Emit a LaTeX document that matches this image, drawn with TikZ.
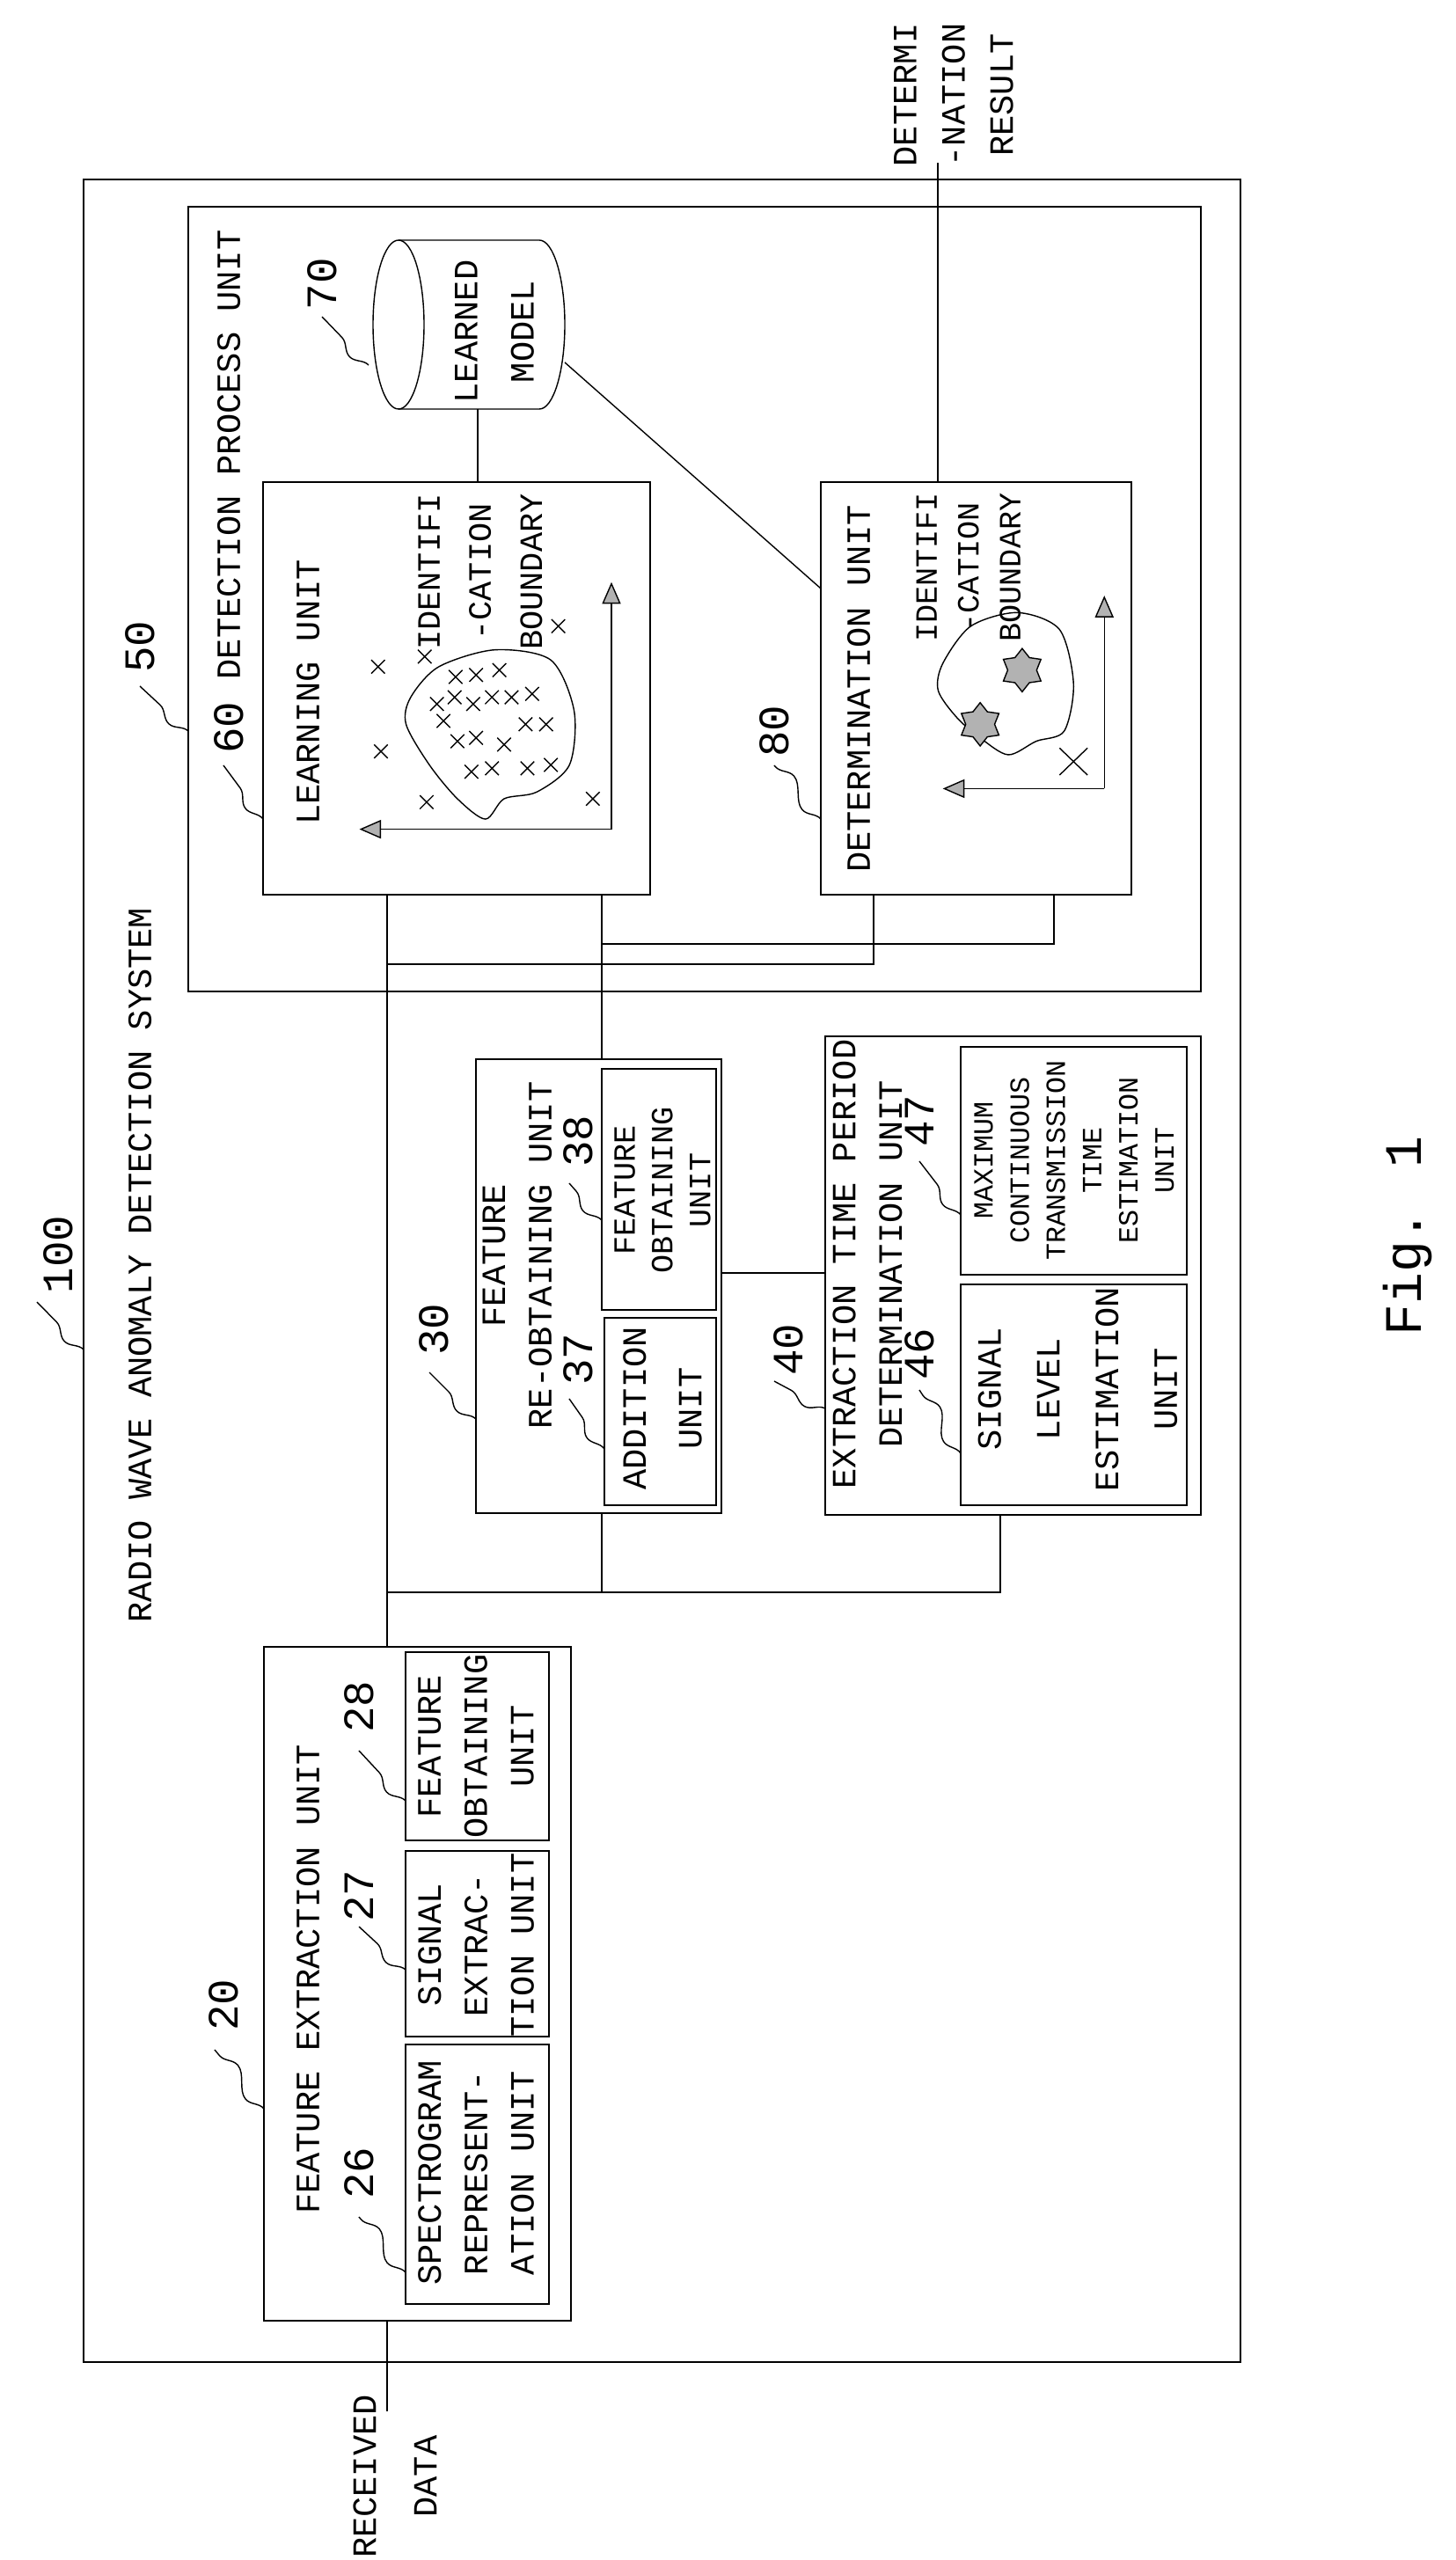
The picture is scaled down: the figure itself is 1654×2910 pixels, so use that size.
\documentclass[tikz,border=0pt]{standalone}
\usepackage{fontspec}
\usetikzlibrary{arrows.meta, fit, positioning, shapes.geometric, shapes.misc, decorations.pathmorphing}
\newfontfamily\pat{Liberation Mono}
\tikzset{
    box/.style={draw, thin, inner sep=0pt},
    txt/.style={rotate=90, align=center, inner sep=0pt, font=\pat\fontsize{11}{#1}\selectfont},
    txt/.default={15},
    num/.style={rotate=90, inner sep=0pt, font=\pat\fontsize{14}{16}\selectfont},
    lead/.style={thin, decorate, decoration={snake, amplitude=0.9mm, segment length=7mm}},
    wire/.style={thin},
    axis/.style={thin, -{Triangle[length=7pt, width=6pt, fill=gray!60]}},
    pt/.style={draw, cross out, thin, minimum size=4pt, inner sep=0pt},
    hit/.style={star, star points=6, draw, fill=gray!60, minimum size=14pt, inner sep=0pt}
}
% box from two corners
\newcommand{\bx}[5]{\node[box, fit={(#2,#3) (#4,#5)}] (#1) {};}
\begin{document}
\begin{tikzpicture}[x=0.01cm, y=-0.01cm]
    \useasboundingbox (0,0) rectangle (1654,2910);
    % frames
    \bx{sys}{95}{204}{1410}{2685}
    \bx{det}{214}{235}{1365}{1127}
    \bx{learn}{299}{548}{739}{1017}
    \bx{judge}{933}{548}{1286}{1017}
    \bx{fe}{300}{1872}{649}{2638}
    \bx{spec}{461}{2324}{624}{2619}
    \bx{sig}{461}{2104}{624}{2315}
    \bx{fob}{461}{1878}{624}{2092}
    \bx{refe}{541}{1204}{820}{1720}
    \bx{add}{687}{1498}{814}{1711}
    \bx{rfob}{684}{1215}{814}{1489}
    \bx{ext}{938}{1178}{1365}{1722}
    \bx{lvl}{1092}{1460}{1349}{1711}
    \bx{mct}{1092}{1190}{1349}{1449}
    % learned model store
    \draw[thin] (453,273) -- (613,273) arc[start angle=-90, end angle=90, x radius=29, y radius=96] -- (453,465);
    \draw[thin] (453,369) ellipse[x radius=29, y radius=96];
    \coordinate (model) at (453,273);
    \coordinate (modelR) at (642,412);
    \coordinate (modelB) at (543,465);
    % texts
    \node[txt] (tsys) at (159,1438) {RADIO WAVE ANOMALY DETECTION SYSTEM};
    \node[txt] (tdet) at (260,517) {DETECTION PROCESS UNIT};
    \node[txt] (tlearn) at (350,787) {LEARNING UNIT};
    \node[txt=16.5, font=\pat\fontsize{10.5}{16.5}\selectfont] (tib1) at (546,650) {IDENTIFI\\-CATION\\BOUNDARY};
    \node[txt=18.2] (tmodel) at (562,377) {LEARNED\\MODEL};
    \node[txt] (tjudge) at (976,783) {DETERMINATION UNIT};
    \node[txt=13.5, font=\pat\fontsize{10}{13.5}\selectfont] (tib2) at (1101,645) {IDENTIFI\\-CATION\\BOUNDARY};
    \node[txt=15.6] (tres) at (1084,108) {DETERMI\\-NATION\\RESULT};
    \node[txt] (tfe) at (350,2250) {FEATURE EXTRACTION UNIT};
    \node[txt] (tspec) at (541,2470) {SPECTROGRAM\\REPRESENT-\\ATION UNIT};
    \node[txt] (tsig) at (541,2211) {SIGNAL\\EXTRAC-\\TION UNIT};
    \node[txt] (tfob) at (541,1985) {FEATURE\\OBTAINING\\UNIT};
    \node[txt] (trefe) at (588,1427) {FEATURE\\RE-OBTAINING UNIT};
    \node[txt=18] (tadd) at (753,1601) {ADDITION\\UNIT};
    \node[txt=12.2, font=\pat\fontsize{10}{12.2}\selectfont] (trfob) at (753,1353) {FEATURE\\OBTAINING\\UNIT};
    \node[txt] (text) at (986,1437) {EXTRACTION TIME PERIOD\\DETERMINATION UNIT};
    \node[txt=19] (tlvl) at (1225,1579) {SIGNAL\\LEVEL\\ESTIMATION\\UNIT};
    \node[txt, font=\pat\fontsize{9}{11.7}\selectfont] (tmct) at (1221,1319) {MAXIMUM\\CONTINUOUS\\TRANSMISSION\\TIME\\ESTIMATION\\UNIT};
    \node[txt=19.6] (trecv) at (449,2815) {RECEIVED\\DATA};
    \node[rotate=90, inner sep=0pt, font=\pat\fontsize{17}{19}\selectfont] (fig) at (1600,1405) {Fig. 1};
    % reference numerals
    \foreach \n/\x/\y/\ax/\ay/\bx/\by in {100/66/1426/95/1534/42/1480, 50/159/735/214/831/159/780,
        60/260/827/299/931/254/870, 70/366/323/419/415/366/360, 80/880/831/933/931/880/870,
        20/254/2279/300/2397/244/2330, 26/408/2470/461/2583/408/2520, 27/408/2155/461/2239/408/2190,
        28/408/1940/461/2047/408/1990, 30/493/1511/541/1613/488/1560, 37/657/1545/687/1647/647/1590,
        38/657/1297/684/1387/647/1345, 40/896/1534/938/1601/880/1570, 46/1045/1539/1092/1652/1045/1580,
        47/1045/1274/1092/1381/1045/1320}{
        \node[num] (n\n) at (\x,\y) {\n};
        \draw[lead] (\ax,\ay) -- (\bx,\by);
    }
    % wiring
    \coordinate (bA) at (440,1096);
    \coordinate (bB) at (684,1073);
    \coordinate (bC) at (1137,1810);
    \draw[wire] (learn.south -| bA) -- (fe.north -| bA);
    \draw[wire] (bA) -| (judge.south -| 993,0);
    \draw[wire] (learn.south -| bB) -- (refe.north -| bB);
    \draw[wire] (bB) -| (judge.south -| 1198,0);
    \draw[wire] (refe.south -| bB) -- (bC -| bB);
    \draw[wire] (bC -| bA) -- (bC) -- (ext.south -| bC);
    \draw[wire] (refe.east |- 0,1447) -- (ext.west |- 0,1447);
    \draw[wire] (fe.south -| bA) -- (440,2741);
    \draw[wire] (modelB) -- (learn.north -| modelB);
    \draw[wire] (modelR) -- (933,669);
    \draw[wire] (judge.north -| 1066,0) -- (1066,185);
    % plots, given in zoomed picture units
    \begin{scope}[x=0.010604cm, y=-0.007692cm]
        \draw[axis] (655,1225) -- (385,1225);
        \draw[axis] (655,1225) -- (655,860);
        \draw[thin] plot[smooth cycle] coordinates {(440,1030) (470,985) (530,960) (590,975) (615,1050)
            (610,1130) (575,1170) (540,1180) (520,1210) (490,1180) (460,1130) (435,1070)};
        \foreach \a/\b in {405/985, 455/970, 408/1110, 457/1185, 635/1180, 598/925, 488/1000, 510/997,
            535/990, 468/1040, 487/1030, 507/1040, 527/1030, 548/1030, 570/1025, 490/1095, 510/1090,
            540/1100, 563/1070, 585/1070, 505/1140, 527/1135, 565/1135, 590/1130, 475/1065}
            \node[pt] at (\a,\b) {};
        \draw[axis] (1183,1165) -- (1010,1165);
        \draw[axis] (1183,1165) -- (1183,880);
        \draw[thin] plot[smooth cycle] coordinates {(1010,980) (1040,925) (1090,905) (1135,930) (1150,1010)
            (1140,1080) (1110,1095) (1080,1115) (1050,1090) (1025,1060) (1005,1020)};
        \node[hit] (s1) at (1095,990) {};
        \node[hit] (s2) at (1050,1070) {};
        \draw[thin] (1135,1105) -- (1165,1145) (1135,1145) -- (1165,1105);
    \end{scope}
\end{tikzpicture}
\end{document}
